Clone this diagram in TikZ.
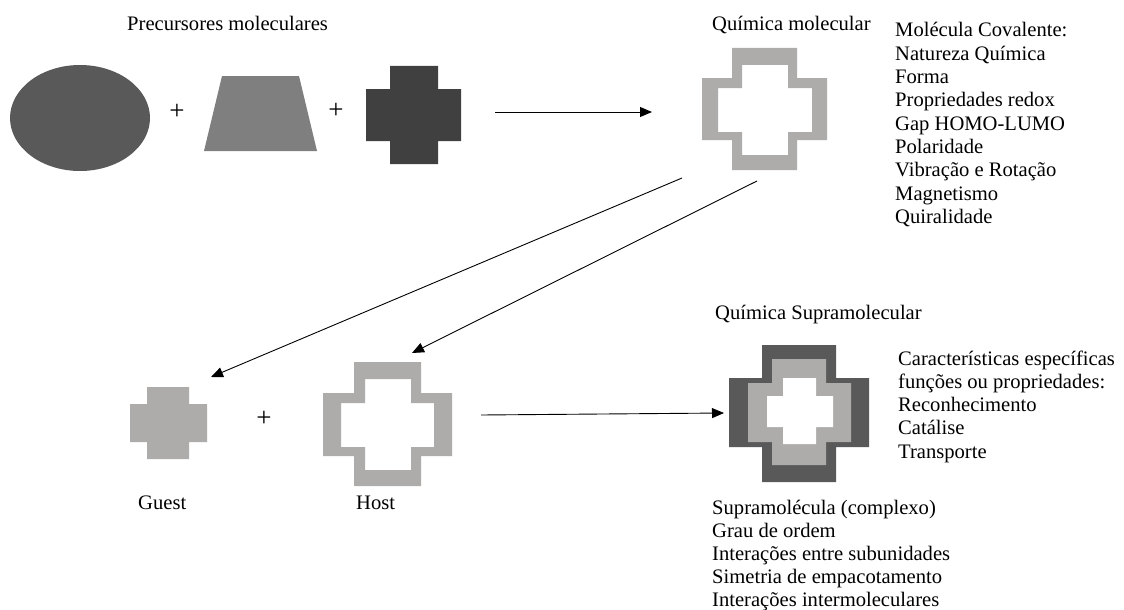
\documentclass[tikz,border=0pt]{standalone}
\usepackage{fontspec}
\setmainfont{Liberation Serif}
\usetikzlibrary{arrows.meta}
\definecolor{elgray}{HTML}{595959}
\definecolor{trgray}{HTML}{7F7F7F}
\definecolor{dkgray}{HTML}{404040}
\definecolor{ltgray}{HTML}{AEABAB}
\newcommand{\crosspath}[8]{(#2,#5) -- (#3,#5) -- (#3,#6) -- (#4,#6) -- (#4,#7) -- (#3,#7) -- (#3,#8) -- (#2,#8) -- (#2,#7) -- (#1,#7) -- (#1,#6) -- (#2,#6) -- cycle}
\tikzset{
  txt/.style={anchor=base west, inner sep=0pt, font=\fontsize{20.6}{23.3}\selectfont},
  plus/.style={inner sep=0pt, font=\fontsize{27}{30}\selectfont},
  conn/.style={line width=0.9pt, -{Triangle[length=12pt,width=10pt]}}
}
\begin{document}
\begin{tikzpicture}[x=1pt,y=-1pt]
\useasboundingbox (0,0) rectangle (1124,610);
% precursors
\fill[elgray] (80,118) ellipse [x radius=70, y radius=53];
\fill[trgray] (222,76) -- (299,76) -- (317,151) -- (204,151) -- cycle;
\fill[dkgray] \crosspath{366}{390}{438}{461}{66}{89}{141}{164};
\node[plus] (p1) at (177,112) {+};
\node[plus] (p2) at (336,111) {+};
% molecular cross outline
\fill[ltgray, even odd rule] \crosspath{702}{732}{797}{827}{48}{78}{140}{170}
  \crosspath{718}{742}{788}{812}{65}{88}{132}{155};
% guest
\fill[ltgray] \crosspath{130}{147}{189}{207}{387}{404}{442}{459};
\node[plus] (p3) at (264,419) {+};
% host
\fill[ltgray, even odd rule] \crosspath{323}{354}{421}{452}{362}{393}{456}{486}
  \crosspath{341}{365}{411}{434}{379}{403}{447}{470};
% supramolecule
\fill[elgray] \crosspath{729}{762}{836}{869}{345}{378}{447}{482};
\fill[ltgray] \crosspath{748}{772}{826}{851}{359}{383}{442}{465};
\fill[white] \crosspath{767}{783}{816}{833}{378}{396}{427}{444};
% arrows
\coordinate (a1s) at (495,112);
\coordinate (a1e) at (652,112);
\coordinate (a2s) at (682,178);
\coordinate (a2e) at (211,377);
\coordinate (a3s) at (757,181);
\coordinate (a3e) at (412,353);
\coordinate (a4s) at (481,415);
\coordinate (a4e) at (724,413);
\draw[conn] (a1s) -- (a1e);
\draw[conn] (a2s) -- (a2e);
\draw[conn] (a3s) -- (a3e);
\draw[conn] (a4s) -- (a4e);
% titles
\node[txt] (t1) at (127,31) {Precursores moleculares};
\node[txt] (t2) at (712,31) {Química molecular};
\node[txt] (t3) at (715,319) {Química Supramolecular};
\node[txt] (guest) at (138,509) {Guest};
\node[txt] (host) at (356,509) {Host};
% lists
\foreach [count=\i] \t in {Molécula Covalente:, Natureza Química, Forma, Propriedades redox, Gap HOMO-LUMO, Polaridade, Vibração e Rotação, Magnetismo, Quiralidade}
  \node[txt] (m\i) at (895,{37+23.3*(\i-1)}) {\t};
\foreach [count=\i] \t in {Características específicas, funções ou propriedades:, Reconhecimento, Catálise, Transporte}
  \node[txt] (c\i) at (898,{365+23.3*(\i-1)}) {\t};
\foreach [count=\i] \t in {Supramolécula (complexo), Grau de ordem, Interações entre subunidades, Simetria de empacotamento, Interações intermoleculares}
  \node[txt] (s\i) at (712,{514+23*(\i-1)}) {\t};
\end{tikzpicture}
\end{document}
